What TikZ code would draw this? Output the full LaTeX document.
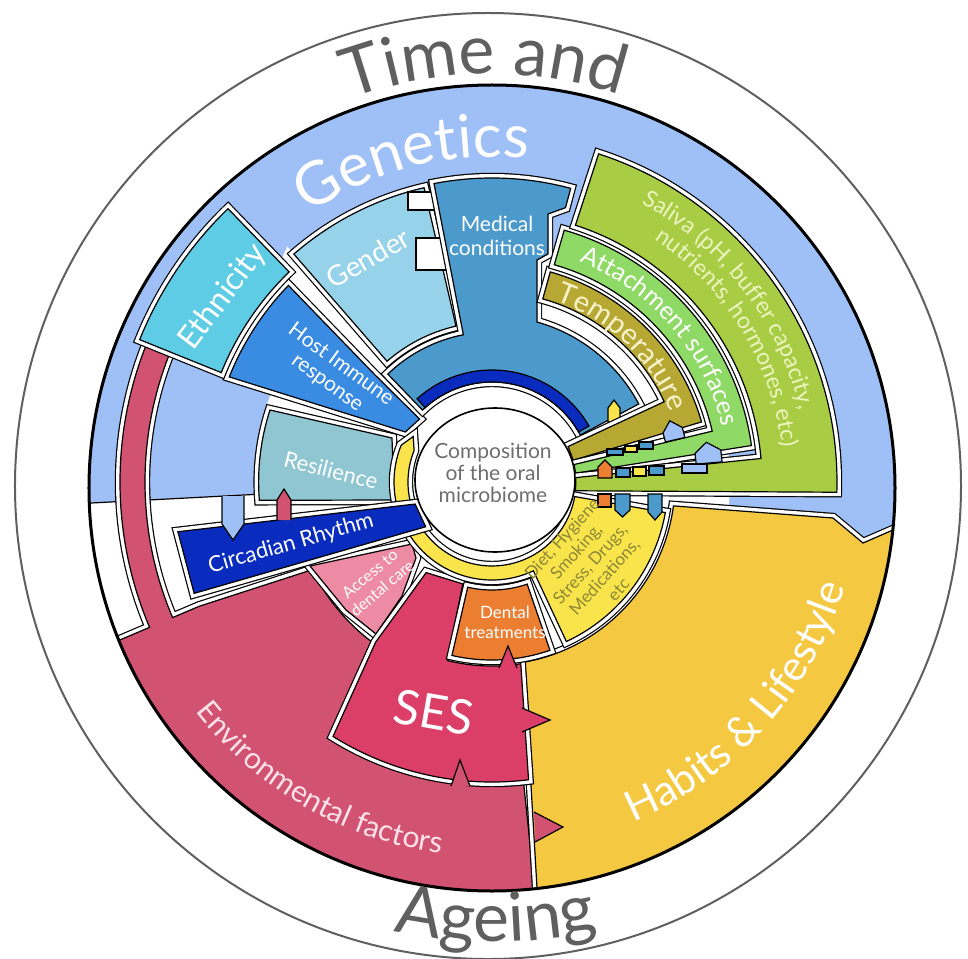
\documentclass[tikz,border=0pt]{standalone}
\usepackage{fontspec}
\setmainfont{Lato}
\usetikzlibrary{decorations.text}

\definecolor{bgblue}{RGB}{159,192,246}
\definecolor{ethcyan}{RGB}{93,204,228}
\definecolor{gendblue}{RGB}{150,211,234}
\definecolor{medblue}{RGB}{76,154,204}
\definecolor{hostblue}{RGB}{58,139,226}
\definecolor{resteal}{RGB}{143,198,210}
\definecolor{circblue}{RGB}{10,44,190}
\definecolor{accpink}{RGB}{238,139,164}
\definecolor{sescrim}{RGB}{219,62,103}
\definecolor{envpink}{RGB}{209,83,113}
\definecolor{dentorange}{RGB}{236,126,50}
\definecolor{dietyellow}{RGB}{249,229,75}
\definecolor{habitgold}{RGB}{245,200,66}
\definecolor{tempolive}{RGB}{182,168,50}
\definecolor{attgreen}{RGB}{143,218,102}
\definecolor{salgreen}{RGB}{168,205,69}
\definecolor{dietolive}{RGB}{140,135,55}
\definecolor{salivatext}{RGB}{238,244,192}
\definecolor{temptext}{RGB}{248,242,205}
\definecolor{envtext}{RGB}{252,226,232}
\definecolor{ringgray}{RGB}{95,95,95}
\definecolor{coregray}{RGB}{110,110,110}

\tikzset{
  zone/.style={fill=#1, draw=black, line width=0.6pt,
    preaction={draw=black, line width=0.6pt, double=white, double distance=4pt}},
  plain/.style={fill=#1, draw=black, line width=0.6pt},
  lab/.style={text=white, align=center, inner sep=0pt},
  arctext/.style={decorate, decoration={text along path, text align=center, text color=#1}}
}

\newcommand{\ringpart}[4]{(#1:#3) arc[start angle=#1, end angle=#2, radius=#3] -- (#2:#4) arc[start angle=#2, end angle=#1, radius=#4] -- cycle}

\begin{document}
\begin{tikzpicture}[x=0.5pt, y=0.5pt]
\useasboundingbox (-492,-476) rectangle (476,482);

\draw[ringgray, line width=1pt] (-4,-4) circle[radius=473];
\fill[bgblue] (0,-6) circle[radius=403];

\begin{scope}
\clip (0,-6) circle[radius=403];
\fill[white] (0,0) circle[radius=238];
\fill[white] (0,0) -- (131:312) -- (136.5:300) -- cycle;
\fill[white] \ringpart{183}{205}{230}{440};
\draw[line width=0.6pt] (183:232) -- (183:420);

% environmental factors, bar up the left
\path[zone=envpink] (206:200) arc[start angle=206, end angle=276, radius=200] -- (276:440) arc[start angle=276, end angle=203, radius=440] -- (203:372) arc[start angle=203, end angle=157, radius=372] -- (153:359) -- (157:347) arc[start angle=157, end angle=203, radius=347] -- (203:318) -- cycle;
% habits and lifestyle
\path[zone=habitgold] (352.5:183) arc[start angle=352.5, end angle=280, radius=183] -- (47,-440) arc[start angle=276.1, end angle=353, radius=442.5] -- (401,-48) -- (371,-61) -- (341,-36) -- cycle;

\path[zone=accpink] (-182,-84) -- (-146,-128) -- (-116,-152) -- (-90,-114) -- (-76,-76) -- (-80,-62) -- cycle;
\path[zone=sescrim] (234:112) -- (254:106) -- (256:184) arc[start angle=256, end angle=279, radius=184] -- (277:300) arc[start angle=277, end angle=238, radius=300] -- (234:198) -- cycle;
\path[zone=dentorange] \ringpart{257}{289}{108}{178};

\path[zone=resteal] (-100,44) -- (-222,72) arc[start angle=162.03, end angle=184.5, radius=233.4] -- (-98,-18) -- cycle;
\path[zone=hostblue] (139:96) -- (137.5:160) -- (136:283) arc[start angle=136, end angle=158.2, radius=283] -- (150:100) -- cycle;
\path[zone=ethcyan] \ringpart{134}{158}{292}{380};
\path[zone=gendblue] \ringpart{103}{131}{160}{302};
\path[plain=white] (-54,272) -- (-84,272) -- (-84,290) -- (-56,290);
\path[plain=white] (-46,212) -- (-76,212) -- (-76,244) -- (-48,244);

% medical conditions
\path[zone=medblue] (28:100) arc[start angle=28, end angle=134, radius=100] -- (134:150) arc[start angle=134, end angle=101, radius=150] -- (101:304) arc[start angle=101, end angle=75, radius=304] -- (75:284) -- (56,268) -- (56,228) -- (45,222) -- (45,160) arc[start angle=74.29, end angle=28, radius=166.2] -- cycle;
\path[plain=circblue] \ringpart{30}{132}{100}{112};
\path[plain=dietyellow] (116,60) -- (116,74) -- (122,82) -- (128,74) -- (128,60) -- cycle;

% right hand bands
\path[zone=tempolive] (15:84) -- (16:218) arc[start angle=16, end angle=74.5, radius=218] -- (74.5:190) arc[start angle=74.5, end angle=25, radius=190] -- (25:84) -- cycle;
\path[zone=attgreen] (6:84) -- (8:262) arc[start angle=8, end angle=74, radius=262] -- (74:226) arc[start angle=74, end angle=13, radius=226] -- (12:84) -- cycle;
\path[zone=salgreen] (-6:84) -- (-1.7:345) arc[start angle=-1.7, end angle=72, radius=345] -- (72:270) arc[start angle=72, end angle=5, radius=270] -- (3:84) -- cycle;

% diet block and its ring round the core
\path[zone=dietyellow] (150:91) -- (158:84) arc[start angle=158, end angle=350, radius=84] -- (350:176) arc[start angle=350, end angle=295, radius=176] -- (295:98) arc[start angle=295, end angle=158, radius=98] -- cycle;
\path[zone=circblue] (189:318) -- (196:80) -- (214:80) -- (200.5:318) -- cycle;

% small tabs
\path[plain=bgblue] (-270,-14) -- (-270,-42) -- (-259,-58) -- (-248,-42) -- (-248,-14);
\path[plain=envpink] (-215,-38) -- (-215,-18) -- (-208,-7) -- (-201,-18) -- (-201,-38);
\path[plain=sescrim] (30,-226) -- (58,-238) -- (30,-250);
\path[plain=envpink] (42,-330) -- (71,-345) -- (43,-360);
\path[plain=envpink] (-41,-304) -- (-32,-278) -- (-22,-304);
\path[plain=sescrim] (7,-186) -- (16,-164) -- (25,-186);
\path[plain=bgblue] (13:178) -- (16:178) -- (19:188) -- (16:198) -- (13:198) -- cycle;
\path[plain=bgblue] (5:205) -- (8:205) -- (10.5:218) -- (8:231) -- (5:231) -- cycle;
\path[plain=dentorange] (106,4) -- (106,15) -- (113,22) -- (120,15) -- (120,4) -- cycle;
\path[plain=medblue] (124,5) rectangle (138,14);
\path[plain=dietyellow] (141,6) rectangle (154,15);
\path[plain=medblue] (157,7) rectangle (172,16);
\path[plain=bgblue] (190,9) rectangle (215,18);
\path[plain=medblue] (115,27) rectangle (131,33);
\path[plain=dietyellow] (133,30) rectangle (145,36);
\path[plain=medblue] (147,33) rectangle (161,40);
\path[plain=dentorange] (106,-12) rectangle (119,-25);
\path[plain=medblue] (123,-12) -- (123,-28) -- (130.5,-35) -- (138,-28) -- (138,-12) -- cycle;
\path[plain=medblue] (156,-12) -- (156,-30) -- (163,-38) -- (170,-30) -- (170,-12) -- cycle;

\path[fill=white, draw=black, line width=0.8pt] (3,2) ellipse[x radius=80, y radius=72];
\end{scope}
\draw[line width=1.5pt] (0,-6) circle[radius=403];

% curved titles
\path[arctext=ringgray, decoration={text={|\fontsize{34}{34}\selectfont|Time and}}] (126:408) arc[start angle=126, end angle=56, radius=408];
\path[arctext=ringgray, decoration={text={|\fontsize{34}{34}\selectfont|Ageing}}] (240:460) arc[start angle=240, end angle=301, radius=460];
\path[arctext=white, decoration={text={|\fontsize{30}{30}\selectfont|Genetics}}] (139:325) arc[start angle=139, end angle=69, radius=325];
\path[arctext=salivatext, decoration={text={|\fontsize{11.5}{12}\selectfont|Saliva (pH, buffer capacity,}}] (75:316) arc[start angle=75, end angle=0, radius=316];
\path[arctext=salivatext, decoration={text={|\fontsize{11.5}{12}\selectfont|nutrients, hormones, etc)}}] (69:292) arc[start angle=69, end angle=-6, radius=292];
\path[arctext=white, decoration={text={|\fontsize{12.5}{13}\selectfont|Attachment surfaces}}] (80:237) arc[start angle=80, end angle=2, radius=237];
\path[arctext=temptext, decoration={text={|\fontsize{14.5}{15}\selectfont|Temperature}}] (85:192) arc[start angle=85, end angle=7, radius=192];
\path[arctext=white, decoration={text={|\fontsize{21}{21}\selectfont|Habits {\&} Lifestyle}}] (-82:368) arc[start angle=-82, end angle=-2, radius=368];
\path[arctext=envtext, decoration={text={|\fontsize{15}{15}\selectfont|Environmental factors}}] (205:375) arc[start angle=205, end angle=275, radius=375];

% labels
\node[lab, font=\fontsize{10.5}{12}\selectfont] (medlab) at (5,246) {Medical\\conditions};
\node[lab, rotate=30, font=\fontsize{14}{14}\selectfont] (gendlab) at (-124,224) {Gender};
\node[lab, rotate=53, font=\fontsize{16}{16}\selectfont] (ethlab) at (-269,185) {Ethnicity};
\node[lab, rotate=-36, font=\fontsize{10.5}{11.5}\selectfont] (hostlab) at (-158,108) {Host Immune\\response};
\node[lab, rotate=-14, font=\fontsize{11}{11}\selectfont] (reslab) at (-161,12) {Resilience};
\node[lab, rotate=16, font=\fontsize{11}{11}\selectfont] (circlab) at (-201,-62) {Circadian Rhythm};
\node[lab, rotate=40, font=\fontsize{8}{9.5}\selectfont] (acclab) at (-116,-99) {Access to\\dental care};
\node[lab, rotate=-10, font=\fontsize{24}{24}\selectfont] (seslab) at (-58,-230) {SES};
\node[lab, font=\fontsize{8.5}{10}\selectfont] (dentlab) at (13,-140) {Dental\\treatments};
\node[lab, text=dietolive, rotate=48, font=\fontsize{8.5}{9.5}\selectfont] (dietlab) at (98,-82) {Diet, Hygiene\\Smoking,\\Stress, Drugs,\\Medications,\\etc};
\node[align=center, text=coregray, font=\fontsize{10.5}{11}\selectfont] (corelab) at (1,9) {Composition\\of the oral\\microbiome};
\end{tikzpicture}
\end{document}
